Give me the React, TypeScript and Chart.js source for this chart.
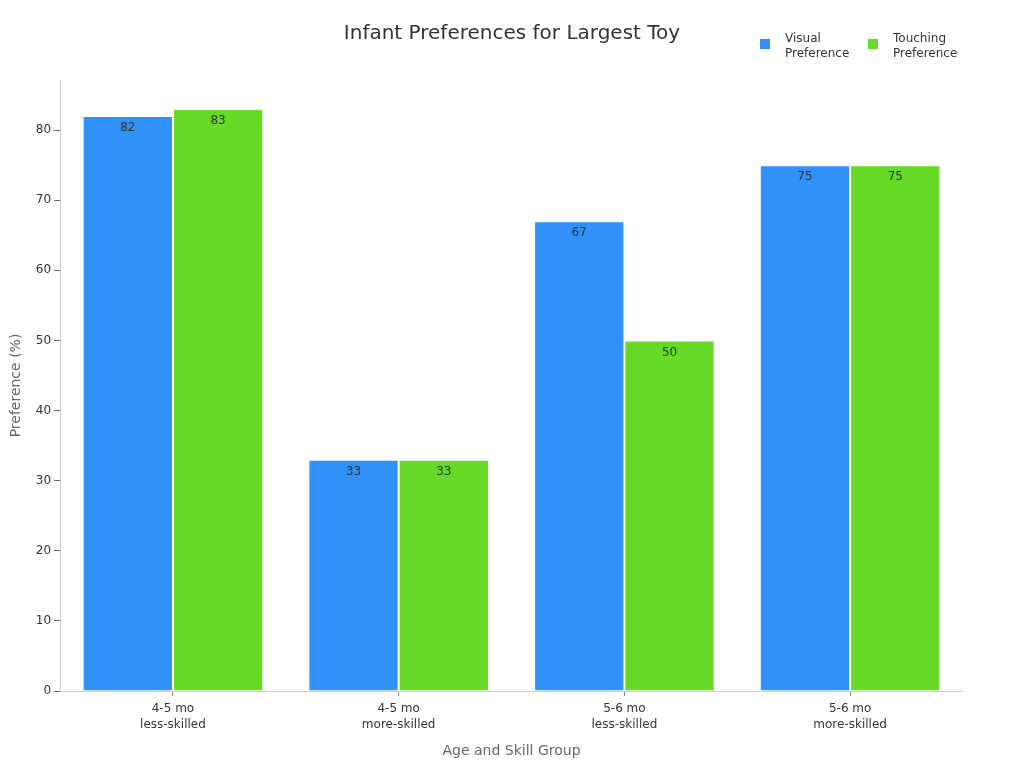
import React, { useEffect, useRef } from "react";
import { Chart, registerables } from "chart.js";

Chart.register(...registerables);

const categories: string[][] = [
  ["4-5 mo", "less-skilled"],
  ["4-5 mo", "more-skilled"],
  ["5-6 mo", "less-skilled"],
  ["5-6 mo", "more-skilled"],
];
const visualPreference = [82, 33, 67, 75];
const touchingPreference = [83, 33, 50, 75];
const seriesNames = [["Visual", "Preference"], ["Touching", "Preference"]];
const seriesColors = ["#3091F7", "#66DA26"];
const titleText = "Infant Preferences for Largest Toy";
const yMax = 87.15;

const FONT = "'DejaVu Sans', sans-serif";

const barLabelPlugin = {
  id: "barLabels",
  afterDatasetsDraw(chart: any) {
    const ctx = chart.ctx;
    ctx.save();
    ctx.font = `12px ${FONT}`;
    ctx.fillStyle = "#333";
    ctx.textAlign = "center";
    ctx.textBaseline = "middle";
    chart.data.datasets.forEach((ds: any, i: number) => {
      const meta = chart.getDatasetMeta(i);
      meta.data.forEach((el: any, j: number) => {
        ctx.fillText(String(ds.data[j]), el.x, el.y + 12);
      });
    });
    ctx.restore();
  },
};

const titleLegendPlugin = {
  id: "titleLegend",
  afterDraw(chart: any) {
    const ctx = chart.ctx;
    ctx.save();
    ctx.font = `20px ${FONT}`;
    ctx.fillStyle = "#333";
    ctx.textAlign = "center";
    ctx.textBaseline = "middle";
    ctx.fillText(titleText, chart.width / 2, 26);

    ctx.font = `12px ${FONT}`;
    ctx.textAlign = "left";
    const starts = [752, 860];
    seriesNames.forEach((lines, i) => {
      const x = starts[i];
      ctx.fillStyle = seriesColors[i];
      ctx.fillRect(x, 31, 10, 10);
      ctx.fillStyle = "#333";
      lines.forEach((ln, k) => {
        ctx.fillText(ln, x + 25, 31 + k * 15);
      });
    });
    ctx.restore();
  },
};

export default function App() {
  const ref = useRef<HTMLCanvasElement>(null);
  useEffect(() => {
    if (!ref.current) return;
    const chart = new Chart(ref.current, {
      type: "bar",
      data: {
        labels: categories,
        datasets: [
          {
            label: "Visual Preference",
            data: visualPreference,
            backgroundColor: seriesColors[0],
            borderColor: "rgba(255,255,255,0.6)",
            borderWidth: 1,
            categoryPercentage: 0.8,
            barPercentage: 1.0,
          },
          {
            label: "Touching Preference",
            data: touchingPreference,
            backgroundColor: seriesColors[1],
            borderColor: "rgba(255,255,255,0.6)",
            borderWidth: 1,
            categoryPercentage: 0.8,
            barPercentage: 1.0,
          },
        ],
      },
      options: {
        animation: false,
        responsive: true,
        maintainAspectRatio: false,
        layout: { padding: { top: 72, right: 53, bottom: 0, left: 0 } },
        plugins: {
          legend: { display: false },
          tooltip: { enabled: false },
          title: { display: false },
        },
        scales: {
          x: {
            border: { display: true, color: "#ccc" },
            grid: {
              display: true,
              drawOnChartArea: false,
              drawTicks: true,
              tickLength: 5,
              offset: false,
              color: "#888",
            },
            ticks: {
              color: "#333",
              font: { family: FONT, size: 12, lineHeight: 1.3 },
              padding: 5,
            },
            title: {
              display: true,
              text: "Age and Skill Group",
              color: "#666",
              font: { family: FONT, size: 14 },
              padding: { top: 6, bottom: 0 },
            },
          },
          y: {
            min: 0,
            max: yMax,
            afterBuildTicks: (axis: any) => {
              axis.ticks = axis.ticks.filter((t: any) => t.value % 10 === 0);
            },
            border: { display: true, color: "#ccc" },
            grid: {
              display: true,
              drawOnChartArea: false,
              drawTicks: true,
              tickLength: 6,
              color: "#666",
            },
            ticks: {
              stepSize: 10,
              color: "#333",
              font: { family: FONT, size: 12 },
              padding: 3,
            },
            title: {
              display: true,
              text: "Preference (%)",
              color: "#666",
              font: { family: FONT, size: 14 },
              padding: { top: 0, bottom: 8 },
            },
          },
        },
      },
      plugins: [barLabelPlugin, titleLegendPlugin],
    });
    return () => chart.destroy();
  }, []);
  return (
    <div style={{ width: "1008px", height: "752px", position: "relative" }}>
      <canvas ref={ref} />
    </div>
  );
}
